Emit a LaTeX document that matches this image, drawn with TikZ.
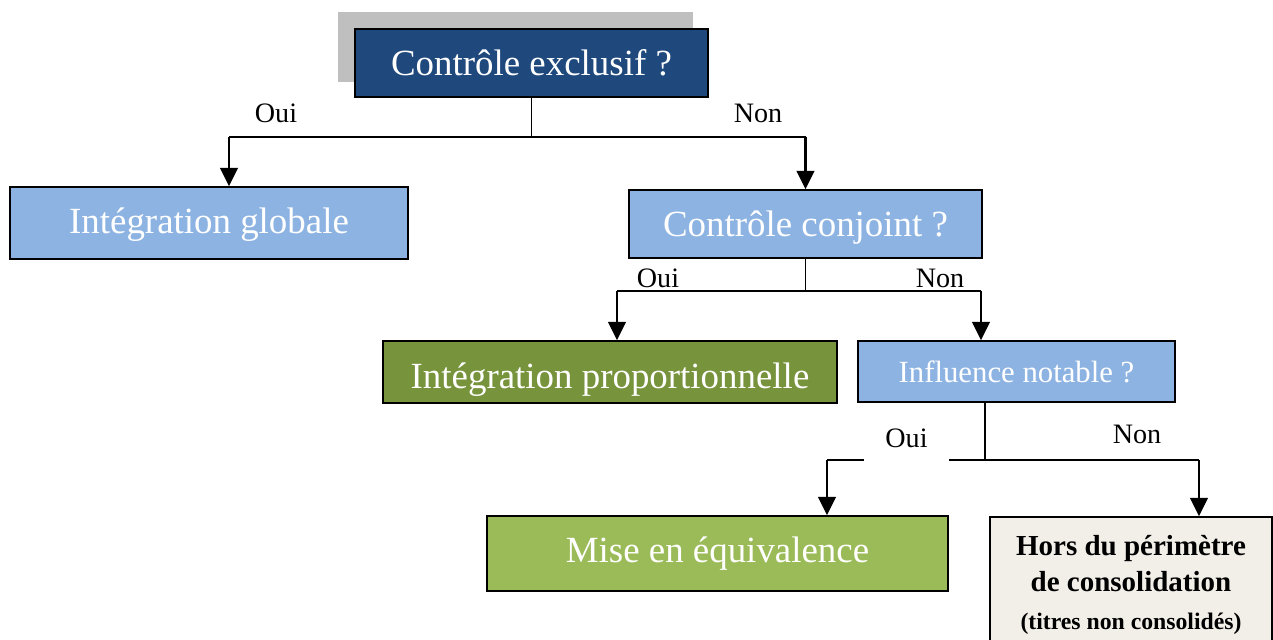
\documentclass[tikz,border=0pt]{standalone}
\usepackage{fontspec}
\setmainfont{Liberation Serif}
\usetikzlibrary{arrows.meta,backgrounds}
\definecolor{questdark}{HTML}{1F497D}
\definecolor{questlight}{HTML}{8DB3E2}
\definecolor{propfill}{HTML}{77933C}
\definecolor{equivfill}{HTML}{9BBB59}
\definecolor{horsfill}{HTML}{F2EEE8}
\definecolor{shadowgray}{HTML}{BFBFBF}
\pgfdeclarelayer{background}
\pgfsetlayers{background,main}
\tikzset{
  boxnode/.style={draw=black, line width=0.8pt, inner sep=0pt, align=center},
  bigtext/.style={font=\fontsize{21}{25}\selectfont, text=white},
  flowline/.style={draw=black, line width=0.6pt},
  flowarrow/.style={-{Triangle[width=10pt,length=10.5pt]}, line width=1.3pt},
  branchlabel/.style={font=\fontsize{16}{19}\selectfont, inner sep=1pt},
}
% invisible strut that pushes a box text slightly down
\newcommand{\lowerstrut}[1]{\rule{0pt}{#1}}

\begin{document}
\begin{tikzpicture}

%%=== COORDINATE PLAN (cm) ===========================================
%%  Canvas: 25.46 x 12.8, origin top-left, y downward negative
%%  Row 1: excl           y=-1.26
%%  Row 2: glob, conj     y=-4.46 / -4.48   (junction y=-2.74)
%%  Row 3: prop, infl     y=-7.44           (junction y=-5.82)
%%  Row 4: equiv, hors    y=-11.07 / -11.70 (junction y=-9.20)
%%====================================================================
\useasboundingbox (0,0) rectangle (25.46,-12.8);
\clip (0,0) rectangle (25.46,-12.8);

%% --- Question and result boxes -------------------------------------
\node[boxnode, bigtext, fill=questdark,
      minimum width=7.06cm, minimum height=1.36cm]
  (excl) at (10.63,-1.26) {Contrôle exclusif ?};

\node[boxnode, bigtext, fill=questlight,
      minimum width=7.96cm, minimum height=1.44cm]
  (glob) at (4.18,-4.46) {\lowerstrut{17pt}Intégration globale};

\node[boxnode, bigtext, fill=questlight,
      minimum width=7.06cm, minimum height=1.36cm]
  (conj) at (16.11,-4.48) {\lowerstrut{19pt}Contrôle conjoint ?};

\node[boxnode, bigtext, fill=propfill,
      minimum width=9.08cm, minimum height=1.24cm]
  (prop) at (12.20,-7.44) {\lowerstrut{23pt}Intégration proportionnelle};

\node[boxnode, fill=questlight, text=white,
      font=\fontsize{17.5}{21}\selectfont,
      minimum width=6.34cm, minimum height=1.22cm]
  (infl) at (20.33,-7.43) {Influence notable ?};

\node[boxnode, bigtext, fill=equivfill,
      minimum width=9.22cm, minimum height=1.50cm]
  (equiv) at (14.35,-11.07) {Mise en équivalence};

\node[boxnode, fill=horsfill,
      font=\bfseries\fontsize{16.5}{20.5}\selectfont,
      minimum width=5.64cm, minimum height=2.72cm]
  (hors) at (22.62,-11.70)
  {Hors du périmètre\\de consolidation\\[1pt]%
   {\fontsize{13.5}{16}\selectfont (titres non consolidés)}};

%% --- Shadow behind the first question ------------------------------
\begin{pgfonlayer}{background}
  \fill[shadowgray] ([shift={(-0.32,0.32)}]excl.south west)
    rectangle ([shift={(-0.32,0.32)}]excl.north east);
\end{pgfonlayer}

%% --- Junction points -----------------------------------------------
\coordinate (j1)  at (10.63,-2.74);
\coordinate (j1L) at (4.58,-2.74);
\coordinate (j1R) at (16.11,-2.74);
\coordinate (j2)  at (16.11,-5.82);
\coordinate (j2L) at (12.34,-5.82);
\coordinate (j2R) at (19.62,-5.82);
\coordinate (j3)  at (19.70,-9.20);
\coordinate (j3L) at (16.54,-9.20);
\coordinate (j3R) at (23.98,-9.20);

%% excl -> glob / conj
\draw[flowline] (excl.south) -- (j1);
\draw[flowline] (j1L) -- (j1R);
\draw[flowarrow] (j1L) -- (glob.north -| j1L);
\draw[flowarrow] (j1R) -- (conj.north);

%% conj -> prop / infl
\draw[flowline] (conj.south) -- (j2);
\draw[flowline] (j2L) -- (j2R);
\draw[flowarrow] (j2L) -- (prop.north -| j2L);
\draw[flowarrow] (j2R) -- (infl.north -| j2R);

%% infl -> equiv / hors
\draw[flowline] (infl.south -| j3) -- (j3);
\draw[flowline] (j3L) -- (j3R);
\draw[flowarrow] (j3L) -- (equiv.north -| j3L);
\draw[flowarrow] (j3R) -- (hors.north -| j3R);

%% --- Branch labels -------------------------------------------------
\node[branchlabel] (oui1) at (5.52,-2.26)  {Oui};
\node[branchlabel] (non1) at (15.16,-2.26) {Non};
\node[branchlabel] (oui2) at (13.16,-5.56) {Oui};
\node[branchlabel] (non2) at (18.80,-5.56) {Non};
\node[branchlabel, fill=white, minimum width=1.7cm, minimum height=0.92cm]
  (oui3) at (18.13,-8.76) {Oui};
\node[branchlabel] (non3) at (22.74,-8.68) {Non};

\end{tikzpicture}
\end{document}
